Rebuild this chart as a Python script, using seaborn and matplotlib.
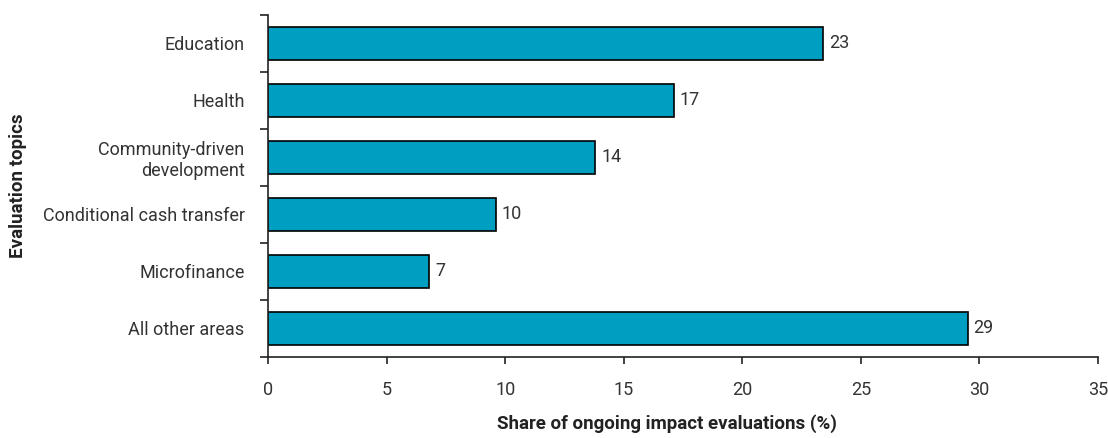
import numpy as np
import pandas as pd
import seaborn as sns
import matplotlib.pyplot as plt

topics = ["Education", "Health", "Community-driven\ndevelopment",
          "Conditional cash transfer", "Microfinance", "All other areas"]
shares = [23.4, 17.1, 13.8, 9.6, 6.8, 29.5]
labels = [23, 17, 14, 10, 7, 29]
xticks = [0, 5, 10, 15, 20, 25, 30, 35]

sns.set_style("ticks")
plt.rcParams['font.family'] = ['Roboto', 'DejaVu Sans']
plt.rcParams['text.color'] = '#333333'
plt.rcParams['axes.labelcolor'] = '#222222'

df = pd.DataFrame({"topic": topics, "share": shares})

f, ax = plt.subplots(figsize=(11.08, 4.38), dpi=100)
f.subplots_adjust(left=0.242, right=0.991, top=0.966, bottom=0.185)

sns.barplot(data=df, x="share", y="topic", color="#009FC2", saturation=1,
            edgecolor="black", linewidth=1.2, width=0.58, ax=ax)

for i, (v, lab) in enumerate(zip(shares, labels)):
    ax.text(v + 0.25, i, str(lab), va="center", ha="left", fontsize=13, color="#333333")

ax.set_xlim(0, 35)
ax.set_ylim(5.5, -0.5)
ax.set_xticks(xticks)
ax.set_yticks(np.arange(-0.5, 6, 1), minor=True)
ax.tick_params(axis="y", which="major", length=0, labelsize=13, labelcolor="#333333", pad=17)
ax.tick_params(axis="y", which="minor", length=6, width=1.2, color="#222222")
ax.tick_params(axis="x", length=5, width=1.2, color="#222222", labelsize=13,
               labelcolor="#333333", pad=12)
for lab in ax.get_yticklabels():
    lab.set_multialignment("right")

ax.set_xlabel("Share of ongoing impact evaluations (%)", fontsize=13.5, fontweight="bold", labelpad=11)
ax.set_ylabel("Evaluation topics", fontsize=13.5, fontweight="bold")
ax.xaxis.label.set_x(0.48)
ax.yaxis.set_label_coords(-0.29, 0.5)

sns.despine(ax=ax)
for s in ["left", "bottom"]:
    ax.spines[s].set_linewidth(1.2)
    ax.spines[s].set_color("#222222")

plt.savefig("out.png", dpi=100)
